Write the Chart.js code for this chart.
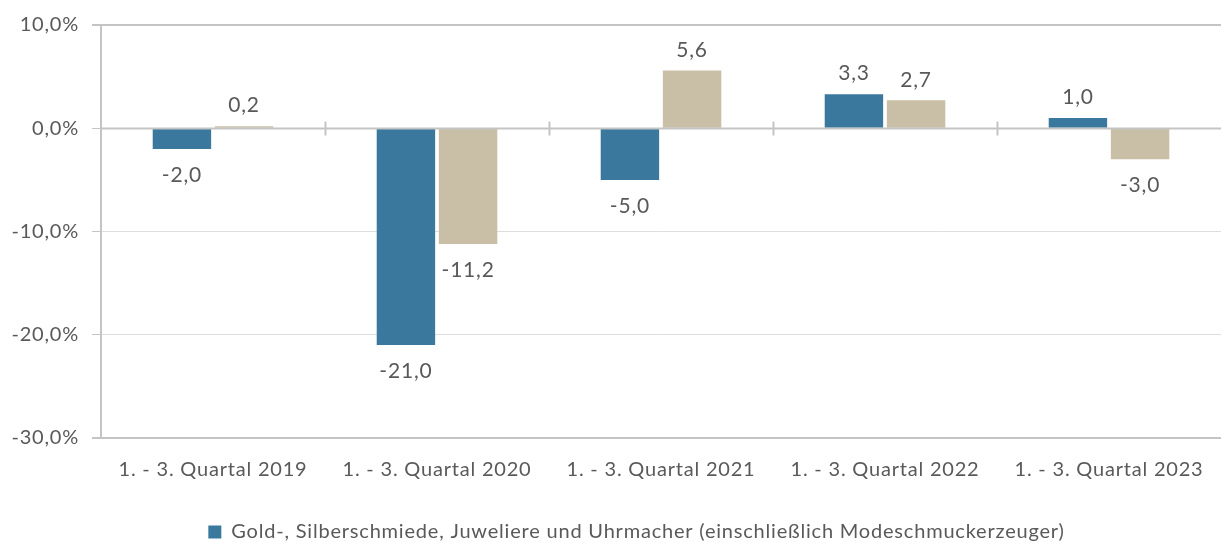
<!DOCTYPE html>
<html><head><meta charset="utf-8">
<script src="https://cdn.jsdelivr.net/npm/chart.js@4"></script>
<style>html,body{margin:0;padding:0;background:#fff;}#wrap{width:1222px;height:543px;}</style>
</head><body><div id="wrap"><canvas id="c"></canvas></div>
<script>
const categories = ["1. - 3. Quartal 2019","1. - 3. Quartal 2020","1. - 3. Quartal 2021","1. - 3. Quartal 2022","1. - 3. Quartal 2023"];
const seriesGold = [-2.0, -21.0, -5.0, 3.3, 1.0];
const seriesOther = [0.2, -11.2, 5.6, 2.7, -3.0];
const seriesNames = ["Gold-, Silberschmiede, Juweliere und Uhrmacher (einschließlich Modeschmuckerzeuger)", ""];
const yTicks = [10, 0, -10, -20, -30];

const FONT = "Lato, 'Open Sans', sans-serif";
const TXT = "#595959";
const AXIS = "#c4c4c4";
const GRID = "#dedede";

const fmt = v => v.toFixed(1).replace('.', ',');

const spacing = {
  id: 'spacing',
  beforeInit(chart) { chart.ctx.letterSpacing = '0.8px'; },
  beforeUpdate(chart) { chart.ctx.letterSpacing = '0.8px'; },
  afterLayout(chart) {
    const lg = chart.legend;
    lg.left += 26; lg.right += 26; lg.top += 11; lg.bottom += 11;
  },
  beforeDraw(chart) { chart.ctx.letterSpacing = '0.8px'; }
};

const zeroAxis = {
  id: 'zeroAxis',
  afterDatasetsDraw(chart) {
    const {ctx, chartArea, scales:{x, y}} = chart;
    const y0 = Math.round(y.getPixelForValue(0)) + 0.5;
    ctx.save();
    ctx.strokeStyle = AXIS; ctx.lineWidth = 2;
    ctx.beginPath(); ctx.moveTo(chartArea.left, y0); ctx.lineTo(chartArea.right, y0); ctx.stroke();
    for (let i = 1; i < categories.length; i++) {
      const px = Math.round((x.getPixelForValue(i-1) + x.getPixelForValue(i)) / 2) + 0.5;
      ctx.beginPath(); ctx.moveTo(px, y0 - 7); ctx.lineTo(px, y0 + 7); ctx.stroke();
    }
    ctx.fillStyle = TXT; ctx.font = "21px " + FONT; ctx.textAlign = 'center';
    chart.data.datasets.forEach((ds, di) => {
      chart.getDatasetMeta(di).data.forEach((bar, i) => {
        const v = ds.data[i];
        if (v >= 0) { ctx.textBaseline = 'bottom'; ctx.fillText(fmt(v), bar.x, bar.y - 10); }
        else { ctx.textBaseline = 'top'; ctx.fillText(fmt(v), bar.x, bar.y + 16); }
      });
    });
    ctx.restore();
  }
};

new Chart(document.getElementById('c'), {
  type: 'bar',
  data: {
    labels: categories,
    datasets: [
      { label: seriesNames[0], data: seriesGold, backgroundColor: '#3b789e', borderWidth: 0 },
      { label: seriesNames[1], data: seriesOther, backgroundColor: '#c9bfa6', borderWidth: 0 }
    ]
  },
  options: {
    responsive: true, maintainAspectRatio: false, animation: false,
    layout: { padding: { top: 22, right: 1, left: 0, bottom: 2 } },
    datasets: { bar: { categoryPercentage: 0.555, barPercentage: 0.94 } },
    plugins: {
      legend: {
        position: 'bottom',
        labels: {
          filter: item => item.datasetIndex === 0,
          font: { family: FONT, size: 20 }, color: TXT,
          boxWidth: 13, boxHeight: 13, padding: 6
        }
      },
      tooltip: { enabled: false }
    },
    scales: {
      x: {
        grid: { display: false }, border: { display: false },
        ticks: { font: { family: FONT, size: 20 }, color: TXT, padding: 12 },
        afterFit: s => { s.height = 67; }
      },
      y: {
        min: -30, max: 10,
        afterBuildTicks: s => { s.ticks = yTicks.map(v => ({ value: v })); },
        afterFit: s => { s.width = 101; },
        grid: {
          color: c => (c.tick && (c.tick.value === 10 || c.tick.value === -30)) ? AXIS : GRID,
          tickColor: AXIS, tickLength: 9,
          lineWidth: c => (c.tick && (c.tick.value === 10 || c.tick.value === -30)) ? 2 : 1
        },
        border: { color: AXIS, width: 2 },
        ticks: { font: { family: FONT, size: 20 }, color: TXT, padding: 13, callback: v => fmt(v) + '%' }
      }
    }
  },
  plugins: [spacing, zeroAxis]
});
</script></body></html>
